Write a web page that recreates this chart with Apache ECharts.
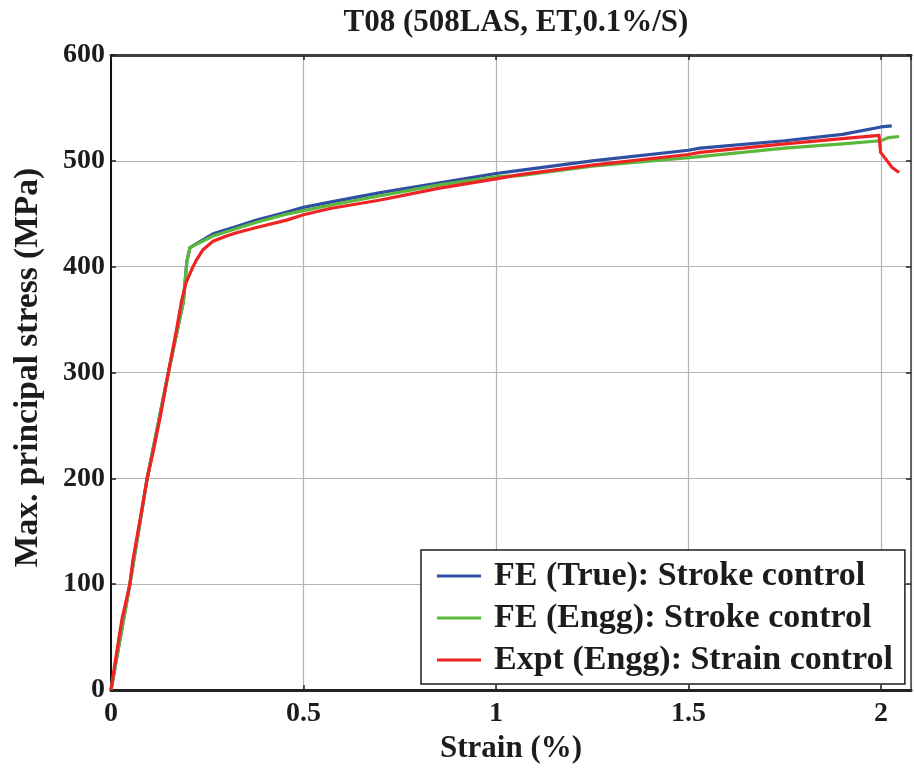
<!DOCTYPE html>
<html>
<head>
<meta charset="utf-8">
<script src="https://cdn.jsdelivr.net/npm/echarts@6/dist/echarts.min.js"></script>
<style>
  html, body { margin: 0; padding: 0; background: #ffffff; }
  #chart { width: 914px; height: 769px; }
</style>
</head>
<body>
<div id="chart"></div>
<script>
// Stress–strain response for specimen T08 (508LAS, ET, 0.1%/s)
const seriesNames = [
  'FE (True): Stroke control',
  'FE (Engg): Stroke control',
  'Expt (Engg): Strain control'
];

// FE, true stress
const strainTrue = [0, 0.049, 0.094, 0.149, 0.188, 0.197, 0.205, 0.265, 0.326, 0.378, 0.45, 0.5, 0.569, 0.7, 0.85, 1.0, 1.062, 1.25, 1.5, 1.53, 1.75, 1.9, 2.0, 2.028];
const stressTrue = [0, 100, 200, 300, 367, 405, 418, 431, 438, 444, 451, 456, 461, 470, 479, 488, 491, 500, 510, 512, 519, 525, 532, 533];

// FE, engineering stress
const strainEngg = [0, 0.049, 0.094, 0.149, 0.188, 0.197, 0.205, 0.265, 0.326, 0.378, 0.45, 0.5, 0.569, 0.7, 0.85, 1.0, 1.062, 1.25, 1.5, 1.53, 1.75, 1.9, 2.0, 2.02, 2.047];
const stressEngg = [0, 100, 200, 300, 367, 405, 418, 429, 436, 442, 449, 453, 458, 467, 477, 485, 486, 495, 503, 504, 512, 516, 519, 522, 523];

// Experiment, engineering stress
const strainExpt = [0, 0.012, 0.028, 0.049, 0.057, 0.075, 0.094, 0.11, 0.13, 0.149, 0.17, 0.183, 0.195, 0.213, 0.223, 0.239, 0.265, 0.3, 0.326, 0.378, 0.456, 0.5, 0.569, 0.7, 0.85, 1.0, 1.062, 1.25, 1.5, 1.53, 1.75, 1.9, 1.995, 1.999, 2.018, 2.028, 2.047];
const stressExpt = [0, 29, 66, 100, 123, 160, 200, 226, 262, 300, 340, 367, 385, 400, 407, 416, 424, 429, 432, 437, 444, 449, 455, 463, 474, 483, 487, 496, 506, 508, 516, 521, 524, 508, 499, 494, 489];

const xTickValues = [0, 0.5, 1, 1.5, 2];
const yTickValues = [0, 100, 200, 300, 400, 500, 600];

const colors = ['#2f4fa2', '#5cb83c', '#ee2424'];
const FONT = '"Liberation Serif", "Times New Roman", serif';
const TEXT = '#1c1c1c';

const zip = (xs, ys) => xs.map((x, i) => [x, ys[i]]);

const chart = echarts.init(document.getElementById('chart'), null, { renderer: 'canvas' });

const xFmt = v => (xTickValues.includes(+v.toFixed(6)) ? String(+v.toFixed(6)) : '');
const yFmt = v => (yTickValues.includes(Math.round(v)) ? String(Math.round(v)) : '');

const option = {
  animation: false,
  backgroundColor: '#ffffff',
  color: colors,
  title: {
    text: 'T08 (508LAS, ET,0.1%/S)',
    left: 511,
    textAlign: 'center',
    top: 2,
    textStyle: { fontFamily: FONT, fontWeight: 'bold', fontSize: 31, color: TEXT }
  },
  grid: {
    left: 111, top: 55, right: 3, bottom: 78,
    show: true, borderColor: '#3a3a3a', borderWidth: 0
  },
  legend: {
    orient: 'vertical',
    left: 421,
    top: 550,
    padding: [9, 12, 7, 16],
    itemGap: 8,
    itemWidth: 44,
    itemHeight: 3,
    icon: 'rect',
    backgroundColor: '#ffffff',
    borderColor: '#1c1c1c',
    borderWidth: 1.5,
    textStyle: { fontFamily: FONT, fontWeight: 'bold', fontSize: 34, color: TEXT, lineHeight: 34, padding: [0, 0, 0, 8] },
    itemStyle: { borderWidth: 0 },
    data: seriesNames
  },
  xAxis: [
    {
      type: 'value',
      min: 0, max: 2.078, interval: 0.5,
      name: 'Strain (%)',
      nameLocation: 'middle',
      nameGap: 43,
      nameTextStyle: { fontFamily: FONT, fontWeight: 'bold', fontSize: 31, color: TEXT },
      axisLine: { show: true, onZero: false, lineStyle: { color: '#222', width: 3 } },
      axisTick: { show: true, inside: true, length: 5, lineStyle: { color: '#222', width: 1.5 } },
      axisLabel: {
        showMaxLabel: false, margin: 10, formatter: xFmt,
        fontFamily: FONT, fontWeight: 'bold', fontSize: 28, color: TEXT
      },
      splitLine: { show: true, lineStyle: { color: '#b4b4b4', width: 1.2 } }
    },
    {
      type: 'value', position: 'top',
      min: 0, max: 2.078, interval: 0.5,
      axisLine: { show: true, onZero: false, lineStyle: { color: '#404040', width: 3 } },
      axisTick: { show: true, inside: true, length: 5, lineStyle: { color: '#222', width: 1.5 } },
      axisLabel: { show: false },
      splitLine: { show: false }
    }
  ],
  yAxis: [
    {
      type: 'value',
      min: 0, max: 600, interval: 100,
      name: 'Max. principal stress (MPa)',
      nameLocation: 'middle',
      nameGap: 66,
      nameTextStyle: { fontFamily: FONT, fontWeight: 'bold', fontSize: 33.5, color: TEXT, padding: [0, 0, 0, 10] },
      axisLine: { show: true, onZero: false, lineStyle: { color: '#111', width: 2 } },
      axisTick: { show: true, inside: true, length: 5, lineStyle: { color: '#222', width: 1.5 } },
      axisLabel: {
        margin: 6, formatter: yFmt,
        fontFamily: FONT, fontWeight: 'bold', fontSize: 28, color: TEXT
      },
      splitLine: { show: true, lineStyle: { color: '#b4b4b4', width: 1.2 } }
    },
    {
      type: 'value', position: 'right',
      min: 0, max: 600, interval: 100,
      axisLine: { show: true, onZero: false, lineStyle: { color: '#404040', width: 1.5 } },
      axisTick: { show: true, inside: true, length: 5, lineStyle: { color: '#222', width: 1.5 } },
      axisLabel: { show: false },
      splitLine: { show: false }
    }
  ],
  series: [
    { name: seriesNames[0], data: zip(strainTrue, stressTrue) },
    { name: seriesNames[1], data: zip(strainEngg, stressEngg) },
    { name: seriesNames[2], data: zip(strainExpt, stressExpt) }
  ].map((s, i) => ({
    type: 'line',
    name: s.name,
    data: s.data,
    xAxisIndex: 0,
    yAxisIndex: 0,
    showSymbol: false,
    symbol: 'none',
    z: 3 + i,
    lineStyle: { width: 3.2, color: colors[i], join: 'round' },
    itemStyle: { color: colors[i] }
  }))
};

chart.setOption(option);
</script>
</body>
</html>
